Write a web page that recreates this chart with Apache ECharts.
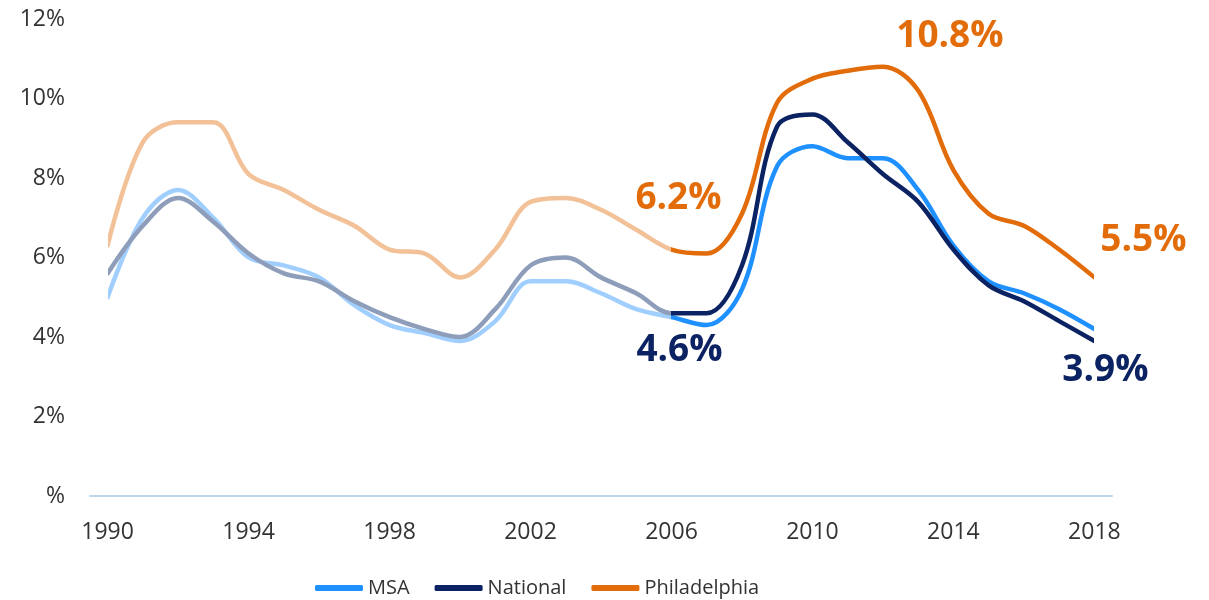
<!DOCTYPE html>
<html>
<head>
<meta charset="utf-8">
<script src="https://cdn.jsdelivr.net/npm/echarts@6/dist/echarts.min.js"></script>
<style>
  html, body { margin: 0; padding: 0; background: #fff; }
  #main { width: 1209px; height: 600px; }
</style>
</head>
<body>
<div id="main"></div>
<script>
// 数据
var years = ['1990','1991','1992','1993','1994','1995','1996','1997','1998','1999',
             '2000','2001','2002','2003','2004','2005','2006','2007','2008','2009',
             '2010','2011','2012','2013','2014','2015','2016','2017','2018'];
var msa = [5.0, 7.0, 7.7, 7.0, 6.0, 5.8, 5.5, 4.8, 4.3, 4.1,
           3.9, 4.4, 5.4, 5.4, 5.1, 4.7, 4.5, 4.3, 5.2, 8.3,
           8.8, 8.5, 8.5, 7.7, 6.3, 5.4, 5.1, 4.7, 4.2];
var national = [5.6, 6.8, 7.5, 6.9, 6.1, 5.6, 5.4, 4.9, 4.5, 4.2,
                4.0, 4.7, 5.8, 6.0, 5.5, 5.1, 4.6, 4.6, 5.8, 9.3,
                9.6, 8.9, 8.1, 7.4, 6.2, 5.3, 4.9, 4.4, 3.9];
var philly = [6.3, 8.9, 9.4, 9.4, 8.1, 7.7, 7.2, 6.8, 6.2, 6.1,
              5.5, 6.2, 7.4, 7.5, 7.2, 6.7, 6.2, 6.1, 7.1, 9.9,
              10.5, 10.7, 10.8, 10.2, 8.2, 7.1, 6.8, 6.2, 5.5];
var seriesNames = ['MSA', 'National', 'Philadelphia'];

var solid = ['#1E90FF', '#0B2362', '#E36C0A'];
var faded = ['#A0CFFF', '#8E9DBA', '#F2C197'];
// 标注: 下标 -> 偏移
var callouts = [
    {},
    {16: [8, 37], 28: [11, 29]},
    {16: [7, -51], 22: [67, -30], 28: [49, -37]}
];

function buildData(values, idx) {
    return values.map(function (v, i) {
        var off = callouts[idx][i];
        if (!off) return v;
        return {
            value: v,
            label: {
                show: true,
                position: 'inside',
                offset: off,
                formatter: v.toFixed(1) + '%',
                color: solid[idx],
                fontSize: 37,
                fontWeight: 'bold',
                fontFamily: 'Open Sans'
            }
        };
    });
}

var myChart = echarts.init(document.getElementById('main'));
var allValues = [msa, national, philly];

myChart.setOption({
    animation: false,
    textStyle: { fontFamily: 'Open Sans' },
    grid: { left: 90, right: 97, top: 19, bottom: 104 },
    legend: {
        left: 310,
        top: 573,
        itemWidth: 48,
        itemHeight: 6,
        itemGap: 25,
        icon: 'roundRect',
        textStyle: { fontSize: 20, color: '#333', fontFamily: 'Open Sans' },
        data: seriesNames.map(function (n, i) {
            return { name: n, itemStyle: { color: solid[i] } };
        })
    },
    // 2006 之前用浅色
    visualMap: [0, 1, 2].map(function (i) {
        return {
            type: 'piecewise',
            show: false,
            seriesIndex: i,
            dimension: 0,
            pieces: [
                { gte: 0, lt: 16.25, color: faded[i] },
                { gte: 16.25, lte: 28, color: solid[i] }
            ]
        };
    }),
    xAxis: {
        type: 'category',
        data: years,
        boundaryGap: true,
        axisLine: { lineStyle: { color: '#BDD7EE', width: 2 } },
        axisTick: { show: false },
        axisLabel: { interval: 3, fontSize: 23, color: '#333', margin: 25 }
    },
    yAxis: {
        type: 'value',
        min: 0,
        max: 12,
        interval: 2,
        splitLine: { show: false },
        axisLine: { show: false },
        axisTick: { show: false },
        axisLabel: {
            fontSize: 23,
            color: '#333',
            margin: 25,
            formatter: function (v) { return v === 0 ? '%' : v + '%'; }
        }
    },
    series: allValues.map(function (vals, i) {
        return {
            name: seriesNames[i],
            type: 'line',
            smooth: 0.35,
            symbol: 'circle',
            symbolSize: 0,
            color: solid[i],
            lineStyle: { width: 4.5, cap: 'round', join: 'round' },
            emphasis: { disabled: true },
            data: buildData(vals, i)
        };
    })
});
</script>
</body>
</html>
